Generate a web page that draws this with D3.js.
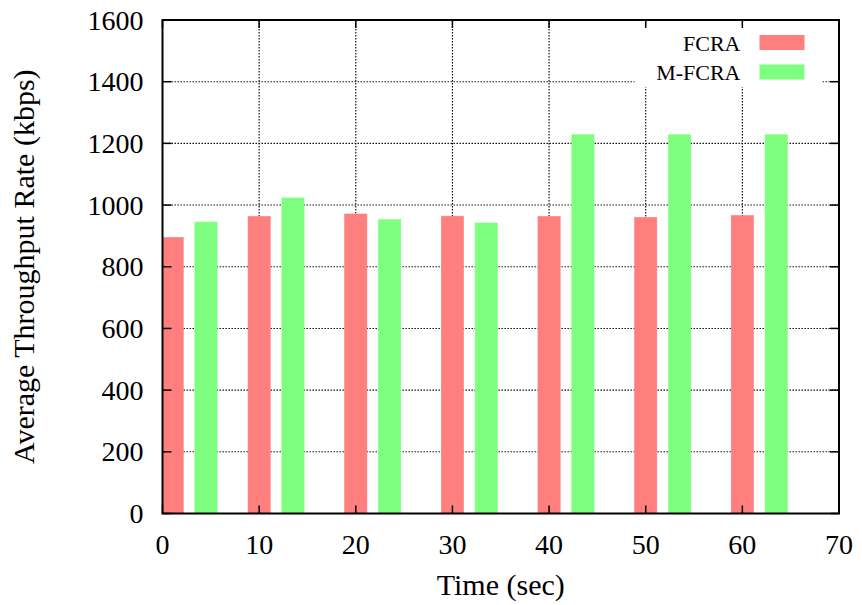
<!DOCTYPE html>
<html>
<head>
<meta charset="utf-8">
<script src="https://cdn.jsdelivr.net/npm/d3@7"></script>
<style>
  body { margin: 0; background: #fff; }
  .grid line { stroke: #000; stroke-width: 1.1; stroke-dasharray: 1.4, 1.6; }
</style>
</head>
<body>
<div id="chart"></div>
<script>
// time points (sec) and average throughput (kbps)
const times = [1, 10, 20, 30, 40, 50, 60];
const fcra = [895, 963, 971, 964, 963, 960, 966];
const mfcra = [945, 1023, 953, 942, 1228, 1228, 1228];
const seriesNames = ['FCRA', 'M-FCRA'];
const seriesColors = ['#ff7f7f', '#7fff7f'];
const xTicks = [0, 10, 20, 30, 40, 50, 60, 70];
const yTicks = [0, 200, 400, 600, 800, 1000, 1200, 1400, 1600];

const width = 862, height = 605;
const margin = { left: 162.5, top: 20, right: 23, bottom: 91.5 };
const innerW = width - margin.left - margin.right;
const innerH = height - margin.top - margin.bottom;
const barWidth = 2.3;   // in x units, like gnuplot boxwidth
const offset = 3.5;     // second series shift
const serif = '"Liberation Serif", "Times New Roman", Times, "DejaVu Serif", serif';

const x = d3.scaleLinear().domain([0, 70]).range([0, innerW]);
const y = d3.scaleLinear().domain([0, 1600]).range([innerH, 0]);

const svg = d3.select('#chart').append('svg')
    .attr('width', width)
    .attr('height', height)
    .attr('font-family', serif)
    .style('font-family', serif);

svg.append('defs').append('clipPath').attr('id', 'plot-clip')
    .append('rect').attr('width', innerW).attr('height', innerH);

const g = svg.append('g').attr('transform', `translate(${margin.left},${margin.top})`);

// grid
const grid = g.append('g').attr('class', 'grid');
grid.selectAll('.gx').data(xTicks.slice(1, -1)).join('line')
    .attr('x1', d => x(d)).attr('x2', d => x(d))
    .attr('y1', 0).attr('y2', innerH);
grid.selectAll('.gy').data(yTicks.slice(1, -1)).join('line')
    .attr('x1', 0).attr('x2', innerW)
    .attr('y1', d => y(d)).attr('y2', d => y(d));

// bars
const bars = g.append('g').attr('clip-path', 'url(#plot-clip)');
[fcra, mfcra].forEach((vals, i) => {
    bars.append('g').selectAll('rect')
        .data(vals.map((v, j) => ({ t: times[j] + i * offset, v })))
        .join('rect')
        .attr('x', d => x(d.t - barWidth / 2))
        .attr('y', d => y(d.v))
        .attr('width', x(barWidth) - x(0))
        .attr('height', d => y(0) - y(d.v))
        .attr('fill', seriesColors[i])
        .attr('stroke', seriesColors[i])
        .attr('stroke-width', 0.6);
});

// legend
const legend = g.append('g');
legend.append('rect')
    .attr('x', 472).attr('y', 5)
    .attr('width', 188).attr('height', 62)
    .attr('fill', '#fff');
seriesNames.forEach((name, i) => {
    const ly = 23 + i * 29.5;
    legend.append('text')
        .attr('x', 578).attr('y', ly)
        .attr('text-anchor', 'end')
        .attr('dominant-baseline', 'central')
        .style('font-size', '22px')
        .text(name);
    legend.append('rect')
        .attr('x', 597).attr('y', ly - 8)
        .attr('width', 45).attr('height', 15)
        .attr('fill', seriesColors[i]);
});

// frame and ticks (mirrored, inward)
const axes = g.append('g').attr('stroke', '#000').attr('stroke-width', 1.5);
axes.selectAll('.tl').data(yTicks).join('line')
    .attr('x1', 0).attr('x2', 9).attr('y1', d => y(d)).attr('y2', d => y(d));
axes.selectAll('.tr').data(yTicks).join('line')
    .attr('x1', innerW - 9).attr('x2', innerW).attr('y1', d => y(d)).attr('y2', d => y(d));
axes.selectAll('.tb').data(xTicks).join('line')
    .attr('x1', d => x(d)).attr('x2', d => x(d)).attr('y1', innerH).attr('y2', innerH - 8);
axes.selectAll('.tt').data(xTicks).join('line')
    .attr('x1', d => x(d)).attr('x2', d => x(d)).attr('y1', 0).attr('y2', 8);
g.append('rect')
    .attr('width', innerW).attr('height', innerH)
    .attr('fill', 'none').attr('stroke', '#000').attr('stroke-width', 2);

// tick labels
g.append('g').selectAll('text').data(yTicks).join('text')
    .attr('x', -19).attr('y', d => y(d))
    .attr('text-anchor', 'end')
    .attr('dominant-baseline', 'central')
    .style('font-size', '28px')
    .text(d => d);
g.append('g').selectAll('text').data(xTicks).join('text')
    .attr('x', d => x(d)).attr('y', innerH + 40)
    .attr('text-anchor', 'middle')
    .style('font-size', '28px')
    .text(d => d);

// axis titles
svg.append('text')
    .attr('x', margin.left + innerW / 2).attr('y', 595)
    .attr('text-anchor', 'middle')
    .style('font-size', '30px')
    .text('Time (sec)');
svg.append('text')
    .attr('transform', `translate(34,${margin.top + innerH / 2}) rotate(-90)`)
    .attr('text-anchor', 'middle')
    .style('font-size', '30px')
    .text('Average Throughput Rate (kbps)');
</script>
</body>
</html>
